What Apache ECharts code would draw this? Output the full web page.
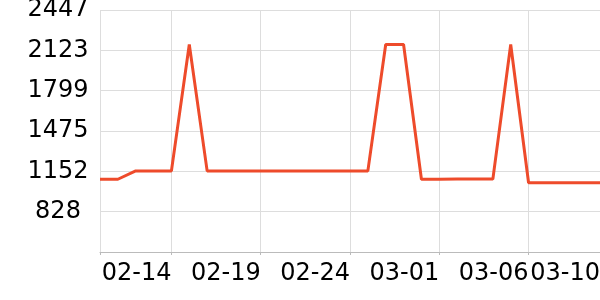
<!DOCTYPE html>
<html>
<head>
<meta charset="utf-8">
<script src="https://cdn.jsdelivr.net/npm/echarts@6/dist/echarts.min.js"></script>
<style>html,body{margin:0;padding:0;background:#fff}#c{width:600px;height:300px}</style>
</head>
<body>
<div id="c"></div>
<script>
var categories = ['02-10','02-11','02-12','02-13','02-14','02-15','02-16','02-17','02-18','02-19',
  '02-20','02-21','02-22','02-23','02-24','02-25','02-26','02-27','02-28','03-01',
  '03-02','03-03','03-04','03-05','03-06','03-07','03-08','03-09','03-10'];
var values = [1088,1088,1155,1155,1155,2170,1155,1155,1155,1155,
  1155,1155,1155,1155,1155,1155,2170,2170,1088,1088,
  1089,1089,1089,2170,1060,1060,1060,1060,1060];
var tickIndices = [0,4,9,14,19,24,28];
var labelIndices = [4,9,14,19,24,28];
var yMin = 504, yMax = 2446.5, yInterval = 323.75;

var chart = echarts.init(document.getElementById('c'), null, {renderer:'canvas'});
chart.setOption({
  animation:false,
  grid:{left:100,right:0,top:10,bottom:48,containLabel:false,outerBoundsMode:'none'},
  xAxis:{
    type:'category', data:categories, boundaryGap:false,
    axisLine:{show:true,lineStyle:{color:'#bbb',width:1}},
    axisTick:{show:true,length:3,interval:function(i){return tickIndices.indexOf(i)>=0;},lineStyle:{color:'#bbb'}},
    splitLine:{show:true,interval:function(i){return tickIndices.indexOf(i)>=0;},lineStyle:{color:'#ddd'}},
    axisLabel:{interval:function(i){return labelIndices.indexOf(i)>=0;},align:'right',margin:10,
      fontSize:24,color:'#000',fontFamily:'DejaVu Sans'}
  },
  yAxis:{
    type:'value', min:yMin, max:yMax, interval:yInterval,
    axisLine:{show:false}, axisTick:{show:false},
    splitLine:{show:true,lineStyle:{color:'#ddd'}},
    axisLabel:{showMinLabel:false,margin:42,align:'center',fontSize:24,color:'#000',fontFamily:'DejaVu Sans',
      formatter:function(v){return Math.round(v);}}
  },
  series:[{type:'line',data:values,showSymbol:false,symbol:'none',
    lineStyle:{color:'#ee4b2b',width:3},itemStyle:{color:'#ee4b2b'}}]
});
</script>
</body>
</html>
